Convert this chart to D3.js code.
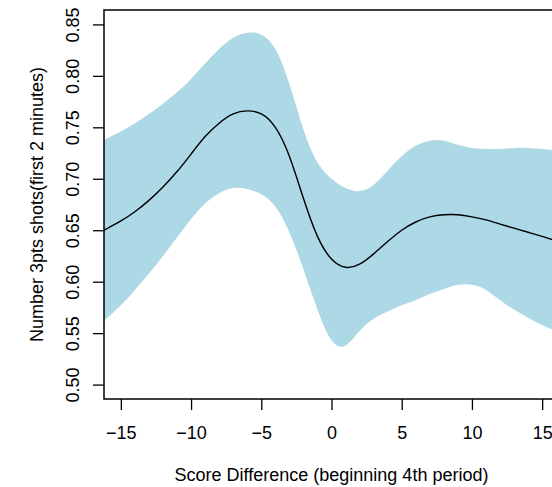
<!DOCTYPE html>
<html>
<head>
<meta charset="utf-8">
<script src="https://cdn.jsdelivr.net/npm/d3@7"></script>
<style>
  html, body { margin: 0; padding: 0; background: #fff; }
  svg { display: block; font-family: "Liberation Sans", Arial, Helvetica, sans-serif; }
</style>
</head>
<body>
<svg id="chart" width="552" height="487"></svg>
<script>
// Smoothed estimate of 3-point shots vs. score difference, with confidence band
const scoreDiff = [-16.2, -15, -14, -13, -12, -11, -10, -9, -8, -7, -6, -5, -4, -3, -2, -1,
                   0, 1, 2, 3, 4, 5, 6, 7, 8, 9, 10, 11, 12, 13, 14, 15, 16.2];
const fitMean  = [0.650, 0.659, 0.668, 0.679, 0.692, 0.707, 0.724, 0.741, 0.754, 0.763, 0.766, 0.763,
                  0.750, 0.722, 0.681, 0.644, 0.622, 0.614, 0.617, 0.627, 0.639, 0.650, 0.658, 0.663,
                  0.665, 0.665, 0.663, 0.660, 0.656, 0.652, 0.648, 0.644, 0.639];
const bandUpper = [0.738, 0.746, 0.754, 0.763, 0.773, 0.784, 0.797, 0.812, 0.826, 0.837, 0.842, 0.840,
                   0.826, 0.792, 0.748, 0.716, 0.700, 0.691, 0.688, 0.694, 0.708, 0.722, 0.732, 0.737,
                   0.737, 0.733, 0.730, 0.729, 0.729, 0.730, 0.730, 0.729, 0.727];
const bandLower = [0.562, 0.577, 0.592, 0.608, 0.625, 0.643, 0.661, 0.676, 0.686, 0.691, 0.690, 0.685,
                   0.673, 0.648, 0.612, 0.573, 0.543, 0.538, 0.552, 0.564, 0.571, 0.577, 0.582, 0.588,
                   0.593, 0.597, 0.597, 0.592, 0.582, 0.573, 0.565, 0.558, 0.551];
const xTicks = [-15, -10, -5, 0, 5, 10, 15];
const yTicks = [0.50, 0.55, 0.60, 0.65, 0.70, 0.75, 0.80, 0.85];
const xTitle = "Score Difference (beginning 4th period)";
const yTitle = "Number 3pts shots(first 2 minutes)";

const svg = d3.select("#chart");
const box = { left: 104, right: 559, top: 10, bottom: 399 };

const x = d3.scaleLinear().domain([-16.2, 16.2]).range([box.left, box.right]);
const y = d3.scaleLinear().domain([0.486, 0.864]).range([box.bottom, box.top]);

const pts = scoreDiff.map((d, i) => ({ x: d, m: fitMean[i], lo: bandLower[i], hi: bandUpper[i] }));
const smooth = d3.curveNatural;

svg.append("clipPath").attr("id", "plotClip")
  .append("rect")
  .attr("x", box.left).attr("y", box.top)
  .attr("width", box.right - box.left).attr("height", box.bottom - box.top);

const plot = svg.append("g").attr("clip-path", "url(#plotClip)");

// Confidence band: upper edge left-to-right, lower edge back
const upperPath = d3.line().x(d => x(d.x)).y(d => y(d.hi)).curve(smooth)(pts);
const lowerPath = d3.line().x(d => x(d.x)).y(d => y(d.lo)).curve(smooth)(pts.slice().reverse());
plot.append("path")
  .attr("fill", "#ADD8E6")
  .attr("stroke", "none")
  .attr("d", upperPath + "L" + lowerPath.slice(1) + "Z");

plot.append("path")
  .datum(pts)
  .attr("fill", "none")
  .attr("stroke", "#000")
  .attr("stroke-width", 1.4)
  .attr("d", d3.line()
    .x(d => x(d.x))
    .y(d => y(d.m))
    .curve(smooth));

// Plot frame
svg.append("rect")
  .attr("x", box.left).attr("y", box.top)
  .attr("width", box.right - box.left).attr("height", box.bottom - box.top)
  .attr("fill", "none").attr("stroke", "#000").attr("stroke-width", 1.5);

// Bottom axis
const gx = svg.append("g")
  .attr("transform", `translate(0,${box.bottom})`)
  .call(d3.axisBottom(x).tickValues(xTicks).tickSize(11).tickSizeOuter(0).tickPadding(16.5));
gx.select(".domain").remove();
gx.selectAll(".tick line").attr("stroke", "#000").attr("stroke-width", 1.3);
gx.selectAll(".tick text")
  .attr("fill", "#000")
  .style("font-size", "18px")
  .style("font-family", "'Liberation Sans', Arial, Helvetica, sans-serif");

// Left axis with labels turned parallel to the axis
const gy = svg.append("g")
  .attr("transform", `translate(${box.left},0)`)
  .call(d3.axisLeft(y).tickValues(yTicks).tickSize(11).tickSizeOuter(0).tickFormat(d3.format(".2f")));
gy.select(".domain").remove();
gy.selectAll(".tick line").attr("stroke", "#000").attr("stroke-width", 1.3);
gy.selectAll(".tick text")
  .attr("x", null).attr("dy", null)
  .attr("transform", "translate(-25,0) rotate(-90)")
  .attr("text-anchor", "middle")
  .attr("fill", "#000")
  .style("font-size", "18px")
  .style("font-family", "'Liberation Sans', Arial, Helvetica, sans-serif");

// Axis titles
svg.append("text")
  .attr("x", (box.left + box.right) / 2)
  .attr("y", 481)
  .attr("text-anchor", "middle")
  .style("font-size", "18px")
  .text(xTitle);

svg.append("text")
  .attr("transform", `translate(43,${(box.top + box.bottom) / 2}) rotate(-90)`)
  .attr("text-anchor", "middle")
  .style("font-size", "18px")
  .text(yTitle);
</script>
</body>
</html>
